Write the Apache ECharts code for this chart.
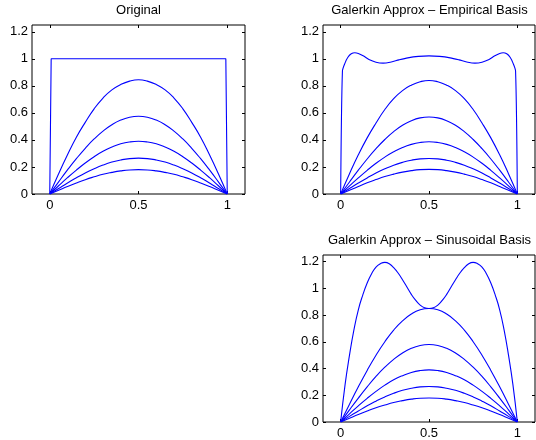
<!DOCTYPE html>
<html>
<head>
<meta charset="utf-8">
<script src="https://cdn.jsdelivr.net/npm/echarts@6/dist/echarts.min.js"></script>
<style>
  html, body { margin: 0; padding: 0; background: #fff; }
  #main { width: 536px; height: 440px; }
</style>
</head>
<body>
<div id="main"></div>
<script>
// tick values
var xTicks = [0, 0.5, 1];
var yTicks = [0, 0.2, 0.4, 0.6, 0.8, 1, 1.2];

// titles
var titles = ['Original', 'Galerkin Approx \u2013 Empirical Basis', 'Galerkin Approx \u2013 Sinusoidal Basis'];

// common x samples (step 0.05)
var xs = [0, 0.05, 0.1, 0.15, 0.2, 0.25, 0.3, 0.35, 0.4, 0.45, 0.5,
          0.55, 0.6, 0.65, 0.7, 0.75, 0.8, 0.85, 0.9, 0.95, 1];

// Original
var origPulseX = [0, 0.008, 0.992, 1];
var origPulseY = [0, 1, 1, 0];
var orig1 = [0, 0.15, 0.29, 0.42, 0.53, 0.63, 0.71, 0.77, 0.81, 0.835, 0.845, 0.835, 0.81, 0.77, 0.71, 0.63, 0.53, 0.42, 0.29, 0.15, 0];
var orig2 = [0, 0.09, 0.178, 0.261, 0.338, 0.407, 0.465, 0.512, 0.547, 0.568, 0.575, 0.568, 0.547, 0.512, 0.465, 0.407, 0.338, 0.261, 0.178, 0.09, 0];
var orig3 = [0, 0.061, 0.121, 0.177, 0.229, 0.276, 0.316, 0.347, 0.371, 0.385, 0.39, 0.385, 0.371, 0.347, 0.316, 0.276, 0.229, 0.177, 0.121, 0.061, 0];
var orig4 = [0, 0.041, 0.082, 0.12, 0.156, 0.187, 0.214, 0.236, 0.252, 0.262, 0.265, 0.262, 0.252, 0.236, 0.214, 0.187, 0.156, 0.12, 0.082, 0.041, 0];
var orig5 = [0, 0.028, 0.056, 0.082, 0.106, 0.127, 0.146, 0.16, 0.171, 0.178, 0.18, 0.178, 0.171, 0.16, 0.146, 0.127, 0.106, 0.082, 0.056, 0.028, 0];

// Empirical basis
var empTopX = [0, 0.01, 0.025, 0.04, 0.06, 0.08, 0.1, 0.13, 0.16, 0.2, 0.24, 0.28, 0.33, 0.38, 0.44, 0.5,
               0.56, 0.62, 0.67, 0.72, 0.76, 0.8, 0.84, 0.87, 0.9, 0.92, 0.94, 0.96, 0.975, 0.99, 1];
var empTopY = [0, 0.91, 0.97, 1.01, 1.037, 1.045, 1.04, 1.02, 0.995, 0.975, 0.968, 0.975, 0.992, 1.007, 1.018, 1.022,
               1.018, 1.007, 0.992, 0.975, 0.968, 0.975, 0.995, 1.02, 1.04, 1.045, 1.037, 1.01, 0.97, 0.91, 0];
var emp1 = [0, 0.15, 0.29, 0.415, 0.525, 0.625, 0.705, 0.765, 0.805, 0.83, 0.84, 0.83, 0.805, 0.765, 0.705, 0.625, 0.525, 0.415, 0.29, 0.15, 0];
var emp2 = [0, 0.089, 0.176, 0.259, 0.335, 0.403, 0.461, 0.508, 0.542, 0.563, 0.57, 0.563, 0.542, 0.508, 0.461, 0.403, 0.335, 0.259, 0.176, 0.089, 0];
var emp3 = [0, 0.06, 0.119, 0.175, 0.227, 0.273, 0.312, 0.344, 0.367, 0.381, 0.386, 0.381, 0.367, 0.344, 0.312, 0.273, 0.227, 0.175, 0.119, 0.06, 0];
var emp4 = [0, 0.041, 0.081, 0.119, 0.155, 0.186, 0.213, 0.234, 0.25, 0.26, 0.263, 0.26, 0.25, 0.234, 0.213, 0.186, 0.155, 0.119, 0.081, 0.041, 0];
var emp5 = [0, 0.028, 0.056, 0.083, 0.107, 0.129, 0.147, 0.162, 0.173, 0.18, 0.182, 0.18, 0.173, 0.162, 0.147, 0.129, 0.107, 0.083, 0.056, 0.028, 0];

// Sinusoidal basis (top curve sampled at step 0.025)
var sinTopX = [0, 0.025, 0.05, 0.075, 0.1, 0.125, 0.15, 0.175, 0.2, 0.225, 0.25, 0.275, 0.3, 0.325, 0.35, 0.375, 0.4, 0.425, 0.45, 0.475, 0.5,
               0.525, 0.55, 0.575, 0.6, 0.625, 0.65, 0.675, 0.7, 0.725, 0.75, 0.775, 0.8, 0.825, 0.85, 0.875, 0.9, 0.925, 0.95, 0.975, 1];
var sinTopY = [0, 0.28, 0.5, 0.69, 0.84, 0.95, 1.04, 1.11, 1.16, 1.185, 1.195, 1.185, 1.155, 1.115, 1.065, 1.01, 0.955, 0.91, 0.875, 0.855, 0.85,
               0.855, 0.875, 0.91, 0.955, 1.01, 1.065, 1.115, 1.155, 1.185, 1.195, 1.185, 1.16, 1.11, 1.04, 0.95, 0.84, 0.69, 0.5, 0.28, 0];
var sin1 = [0, 0.133, 0.263, 0.386, 0.5, 0.601, 0.688, 0.757, 0.808, 0.84, 0.85, 0.84, 0.808, 0.757, 0.688, 0.601, 0.5, 0.386, 0.263, 0.133, 0];
var sin2 = [0, 0.091, 0.179, 0.263, 0.341, 0.41, 0.469, 0.517, 0.552, 0.573, 0.58, 0.573, 0.552, 0.517, 0.469, 0.41, 0.341, 0.263, 0.179, 0.091, 0];
var sin3 = [0, 0.061, 0.121, 0.177, 0.229, 0.276, 0.316, 0.347, 0.371, 0.385, 0.39, 0.385, 0.371, 0.347, 0.316, 0.276, 0.229, 0.177, 0.121, 0.061, 0];
var sin4 = [0, 0.042, 0.082, 0.121, 0.156, 0.188, 0.215, 0.237, 0.253, 0.263, 0.266, 0.263, 0.253, 0.237, 0.215, 0.188, 0.156, 0.121, 0.082, 0.042, 0];
var sin5 = [0, 0.028, 0.056, 0.082, 0.106, 0.127, 0.146, 0.16, 0.171, 0.178, 0.18, 0.178, 0.171, 0.16, 0.146, 0.127, 0.106, 0.082, 0.056, 0.028, 0];

function pairs(x, y) {
  return x.map(function (v, i) { return [v, y[i]]; });
}

var font = 'Liberation Sans, Arial, Helvetica, sans-serif';
var grids = [
  { left: 32, top: 25, width: 213, height: 169 },
  { left: 323, top: 25, width: 212, height: 169 },
  { left: 323, top: 255, width: 212, height: 168 }
];

var xAxes = [], yAxes = [], series = [];
grids.forEach(function (g, i) {
  g.show = true;
  g.borderColor = '#000';
  g.borderWidth = 1;
  g.backgroundColor = '#fff';
  ['bottom', 'top'].forEach(function (pos) {
    xAxes.push({
      type: 'value', gridIndex: i, position: pos, min: -0.1, max: 1.1,
      axisLine: { show: false, onZero: false },
      splitLine: { show: false },
      axisTick: { show: true, inside: true, length: 3, customValues: xTicks, lineStyle: { color: '#000' } },
      axisLabel: { show: pos === 'bottom', customValues: xTicks, margin: 5, color: '#000', fontSize: 13, fontFamily: font }
    });
  });
  ['left', 'right'].forEach(function (pos) {
    yAxes.push({
      type: 'value', gridIndex: i, position: pos, min: 0, max: 1.25,
      axisLine: { show: false, onZero: false },
      splitLine: { show: false },
      axisTick: { show: true, inside: true, length: 3, customValues: yTicks, lineStyle: { color: '#000' } },
      axisLabel: { show: pos === 'left', customValues: yTicks, margin: 4, color: '#000', fontSize: 13, fontFamily: font }
    });
  });
});

function addLine(gi, data, smooth) {
  series.push({
    type: 'line', xAxisIndex: gi * 2, yAxisIndex: gi * 2,
    data: data, showSymbol: false, smooth: smooth,
    lineStyle: { color: '#0000ff', width: 1.1 }, silent: true
  });
}

addLine(0, pairs(origPulseX, origPulseY), false);
[orig1, orig2, orig3, orig4, orig5].forEach(function (s) { addLine(0, pairs(xs, s), 0.5); });

addLine(1, pairs(empTopX, empTopY), 0.25);
[emp1, emp2, emp3, emp4, emp5].forEach(function (s) { addLine(1, pairs(xs, s), 0.5); });

addLine(2, pairs(sinTopX, sinTopY), 0.5);
[sin1, sin2, sin3, sin4, sin5].forEach(function (s) { addLine(2, pairs(xs, s), 0.5); });

var titlePos = [[138.5, 10.5], [429.5, 10.5], [429.5, 240.5]];
var graphics = titles.map(function (t, i) {
  return {
    type: 'text', x: titlePos[i][0], y: titlePos[i][1], silent: true,
    style: {
      text: t, fill: '#000', font: '13px ' + font,
      align: 'center', verticalAlign: 'middle',
      textAlign: 'center', textVerticalAlign: 'middle'
    }
  };
});

var chart = echarts.init(document.getElementById('main'));
chart.setOption({
  animation: false,
  backgroundColor: '#fff',
  grid: grids,
  xAxis: xAxes,
  yAxis: yAxes,
  series: series,
  graphic: graphics
});
</script>
</body>
</html>
